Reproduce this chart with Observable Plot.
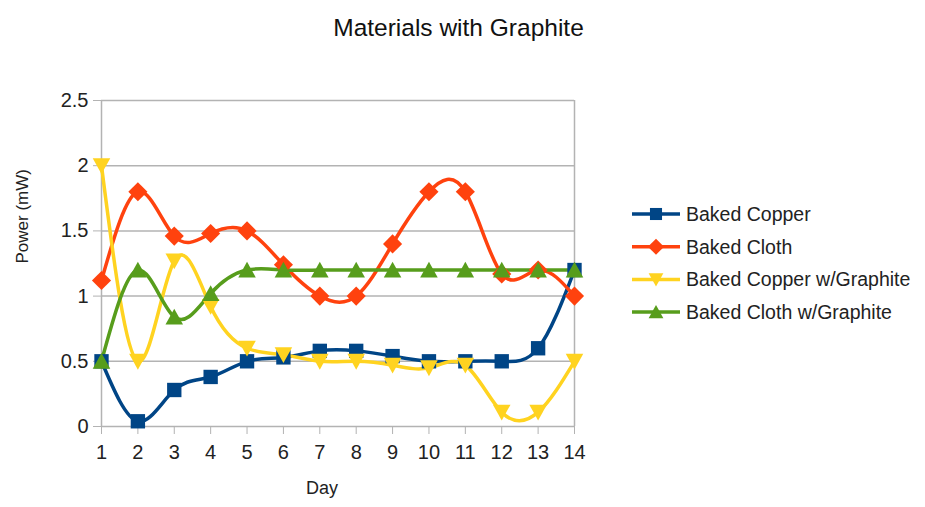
<!DOCTYPE html>
<html><head><meta charset="utf-8">
<script src="https://cdn.jsdelivr.net/npm/d3@7"></script>
<script src="https://cdn.jsdelivr.net/npm/@observablehq/plot@0.6"></script>
<style>
body{margin:0;background:#fff;font-family:"Liberation Sans",Arial,sans-serif;}
#wrap{position:relative;width:925px;height:507px;overflow:hidden;}
#title{position:absolute;left:0;width:917px;top:14px;text-align:center;font-size:24.5px;color:#111;}
#legend{position:absolute;left:628px;top:196px;}
#chart{position:absolute;left:0;top:0;}
</style></head><body>
<div id="wrap"><div id="chart"></div><div id="title">Materials with Graphite</div><svg id="legend" width="297" height="140"></svg></div>
<script>
const days = [1,2,3,4,5,6,7,8,9,10,11,12,13,14];
const bakedCopper = [0.5,0.04,0.28,0.38,0.5,0.53,0.58,0.58,0.54,0.5,0.5,0.5,0.6,1.2];
const bakedCloth = [1.12,1.8,1.46,1.48,1.5,1.24,1.0,1.0,1.4,1.8,1.8,1.17,1.2,1.0];
const bakedCopperGraphite = [2.0,0.5,1.27,0.92,0.6,0.55,0.5,0.5,0.47,0.45,0.47,0.11,0.11,0.5];
const bakedClothGraphite = [0.5,1.2,0.84,1.02,1.2,1.2,1.2,1.2,1.2,1.2,1.2,1.2,1.2,1.2];
const seriesNames = ["Baked Copper","Baked Cloth","Baked Copper w/Graphite","Baked Cloth w/Graphite"];
const seriesColors = ["#004586","#ff420e","#ffd320","#579d1c"];
const yTicks = [0,0.5,1,1.5,2,2.5];

const symSquare = {draw(c, size){const s=Math.sqrt(size)*0.9; c.rect(-s/2,-s/2,s,s);}};
const symDiamond = {draw(c, size){const s=Math.sqrt(size)*0.6; c.moveTo(0,-s);c.lineTo(s,0);c.lineTo(0,s);c.lineTo(-s,0);c.closePath();}};
const symDown = {draw(c, size){const s=Math.sqrt(size)*0.55; c.moveTo(-s,-s*0.85);c.lineTo(s,-s*0.85);c.lineTo(0,s*0.95);c.closePath();}};
const symUp = {draw(c, size){const s=Math.sqrt(size)*0.55; c.moveTo(-s,s*0.85);c.lineTo(s,s*0.85);c.lineTo(0,-s*0.95);c.closePath();}};
const symbols = [symSquare, symDiamond, symDown, symUp];
const allSeries = [bakedCopper, bakedCloth, bakedCopperGraphite, bakedClothGraphite];

const data = [];
allSeries.forEach((vals, i) => vals.forEach((v, j) => data.push({day: days[j], value: v, series: seriesNames[i], idx: i})));

const grid = "#b3b3b3";
const marks = [
  Plot.ruleY(yTicks, {stroke: grid, strokeWidth: 1.5}),
  Plot.ruleX([days[0], days[days.length-1]], {stroke: grid, strokeWidth: 1.5}),
  Plot.axisY({ticks: yTicks, tickSize: 8, tickPadding: 5, tickFormat: d => String(d), stroke: grid, fill: "#222", label: null, fontSize: 20}),
  Plot.axisX({ticks: days, tickSize: 8, tickPadding: 10, tickFormat: d => String(d), stroke: grid, fill: "#222", label: null, fontSize: 20}),
  Plot.text(["Day"], {frameAnchor: "bottom", dy: 67, dx: -16, fontSize: 18, fill: "#222"}),
  Plot.text(["Power (mW)"], {frameAnchor: "left", dx: -79, rotate: -90, fontSize: 17, fill: "#222"})
];
allSeries.forEach((vals, i) => {
  const d = data.filter(r => r.idx === i);
  marks.push(Plot.line(d, {x: "day", y: "value", stroke: seriesColors[i], strokeWidth: 3.5, curve: "natural"}));
});
allSeries.forEach((vals, i) => {
  const d = data.filter(r => r.idx === i);
  marks.push(Plot.dot(d, {x: "day", y: "value", fill: seriesColors[i], stroke: "none", symbol: () => symbols[i], r: 9}));
});

const chart = Plot.plot({
  width: 925, height: 507,
  marginLeft: 101, marginRight: 351, marginTop: 100, marginBottom: 81,
  x: {domain: [1, 14]},
  y: {domain: [0, 2.5]},
  style: {fontFamily: '"Liberation Sans", Arial, sans-serif', fontSize: "20px", color: "#222", background: "#fff"},
  marks
});
document.getElementById("chart").appendChild(chart);

// legend
const leg = d3.select("#legend");
seriesNames.forEach((name, i) => {
  const y = 18 + i * 32.7;
  const g = leg.append("g").attr("transform", `translate(0,${y})`);
  g.append("line").attr("x1", 4).attr("x2", 52).attr("y1", 0).attr("y2", 0).attr("stroke", seriesColors[i]).attr("stroke-width", 3.5);
  g.append("path").attr("transform", "translate(28,0)").attr("d", d3.symbol(symbols[i], 180)()).attr("fill", seriesColors[i]);
  g.append("text").attr("x", 58).attr("y", 0).attr("dy", "0.35em").attr("font-size", 19.5).attr("fill", "#222").text(name);
});
</script>
</body></html>
